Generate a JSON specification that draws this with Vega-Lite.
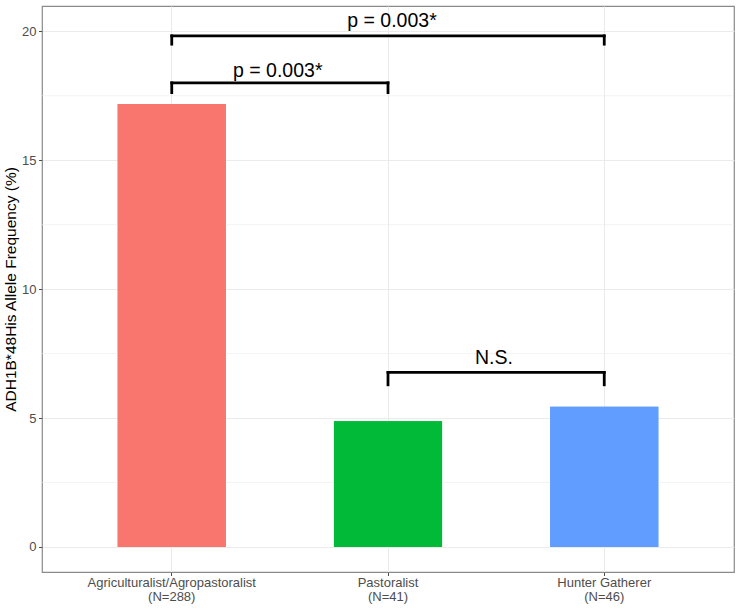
{
  "$schema": "https://vega.github.io/schema/vega-lite/v6.json",
  "width": 692,
  "height": 566,
  "autosize": {"type": "none"},
  "padding": {"left": 42, "top": 6, "right": 6, "bottom": 38},
  "background": "white",
  "config": {
    "font": "Liberation Sans",
    "view": {"stroke": "#8a8a8a", "strokeWidth": 1.2},
    "axis": {"labelFont": "Liberation Sans", "titleFont": "Liberation Sans"}
  },
  "datasets": {
    "bars": [
      {"group": "Agriculturalist/Agropastoralist\n(N=288)", "freq": 17.18},
      {"group": "Pastoralist\n(N=41)", "freq": 4.88},
      {"group": "Hunter Gatherer\n(N=46)", "freq": 5.44}
    ],
    "brackets": [
      {"from": "Agriculturalist/Agropastoralist\n(N=288)", "to": "Pastoralist\n(N=41)", "y": 18.0, "yend": 17.62},
      {"from": "Agriculturalist/Agropastoralist\n(N=288)", "to": "Hunter Gatherer\n(N=46)", "y": 19.82, "yend": 19.5},
      {"from": "Pastoralist\n(N=41)", "to": "Hunter Gatherer\n(N=46)", "y": 6.77, "yend": 6.29}
    ],
    "centerLabels": [
      {"at": "Pastoralist\n(N=41)", "y": 20.16, "label": "p = 0.003*"}
    ],
    "midLabels": [
      {"at": "Agriculturalist/Agropastoralist\n(N=288)", "y": 18.22, "label": "p = 0.003*"},
      {"at": "Pastoralist\n(N=41)", "y": 7.11, "label": "N.S."}
    ]
  },
  "layer": [
    {
      "data": {"name": "bars"},
      "mark": {"type": "bar"},
      "encoding": {
        "x": {
          "field": "group",
          "type": "nominal",
          "sort": null,
          "title": null,
          "scale": {
            "domain": ["Agriculturalist/Agropastoralist\n(N=288)", "Pastoralist\n(N=41)", "Hunter Gatherer\n(N=46)"],
            "paddingInner": 0.5,
            "paddingOuter": 0.35
          },
          "axis": {
            "labelExpr": "split(datum.value, '\\n')",
            "labelAngle": 0,
            "labelFontSize": 13,
            "labelColor": "#4D4D4D",
            "labelLineHeight": 14,
            "labelPadding": 1,
            "tickColor": "#4D4D4D",
            "tickSize": 3.5,
            "domain": false,
            "grid": true,
            "gridColor": "#EBEBEB",
            "gridWidth": 1
          }
        },
        "y": {
          "field": "freq",
          "type": "quantitative",
          "title": "ADH1B*48His Allele Frequency (%)",
          "scale": {"domain": [-0.97, 20.98], "nice": false, "zero": false},
          "axis": {
            "values": [0, 5, 10, 15, 20],
            "labelFontSize": 13,
            "labelColor": "#4D4D4D",
            "labelPadding": 2.5,
            "tickColor": "#4D4D4D",
            "tickSize": 3.5,
            "domain": false,
            "grid": true,
            "gridColor": "#EBEBEB",
            "gridWidth": 1,
            "titleFontSize": 15.5,
            "titleFontWeight": "normal",
            "titleColor": "black",
            "titlePadding": 3
          }
        },
        "color": {
          "field": "group",
          "type": "nominal",
          "sort": null,
          "legend": null,
          "scale": {"range": ["#F8766D", "#00BA38", "#619CFF"]}
        }
      }
    },
    {
      "data": {"values": [{"v": 2.5}, {"v": 7.5}, {"v": 12.5}, {"v": 17.5}]},
      "mark": {"type": "rule", "color": "#EBEBEB", "strokeWidth": 0.6},
      "encoding": {"y": {"field": "v", "type": "quantitative"}}
    },
    {
      "data": {"name": "bars"},
      "mark": {"type": "bar"},
      "encoding": {
        "x": {"field": "group", "type": "nominal", "sort": null},
        "y": {"field": "freq", "type": "quantitative"},
        "color": {"field": "group", "type": "nominal", "sort": null, "legend": null}
      }
    },
    {
      "data": {"name": "brackets"},
      "mark": {"type": "rule", "color": "black", "strokeWidth": 2.8, "strokeCap": "square"},
      "encoding": {
        "x": {"field": "from", "type": "nominal"},
        "x2": {"field": "to"},
        "y": {"field": "y", "type": "quantitative"}
      }
    },
    {
      "data": {"name": "brackets"},
      "mark": {"type": "rule", "color": "black", "strokeWidth": 2.8, "strokeCap": "square"},
      "encoding": {
        "x": {"field": "from", "type": "nominal"},
        "y": {"field": "y", "type": "quantitative"},
        "y2": {"field": "yend"}
      }
    },
    {
      "data": {"name": "brackets"},
      "mark": {"type": "rule", "color": "black", "strokeWidth": 2.8, "strokeCap": "square"},
      "encoding": {
        "x": {"field": "to", "type": "nominal"},
        "y": {"field": "y", "type": "quantitative"},
        "y2": {"field": "yend"}
      }
    },
    {
      "data": {"name": "centerLabels"},
      "mark": {"type": "text", "fontSize": 19.5, "color": "black", "baseline": "alphabetic", "align": "center", "dx": 4},
      "encoding": {
        "x": {"field": "at", "type": "nominal"},
        "y": {"field": "y", "type": "quantitative"},
        "text": {"field": "label"}
      }
    },
    {
      "data": {"name": "midLabels"},
      "mark": {"type": "text", "fontSize": 19.5, "color": "black", "baseline": "alphabetic", "align": "center", "dx": 106},
      "encoding": {
        "x": {"field": "at", "type": "nominal"},
        "y": {"field": "y", "type": "quantitative"},
        "text": {"field": "label"}
      }
    }
  ]
}
